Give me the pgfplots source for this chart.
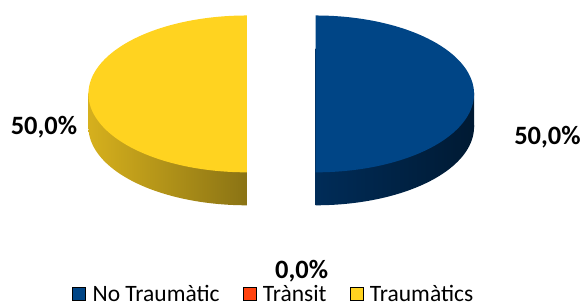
\documentclass[border=0pt]{standalone}
\usepackage{fontspec}
\setmainfont{Carlito}
\usepackage{pgfplots}
\pgfplotsset{compat=1.18}
\definecolor{cblue}{HTML}{004586}
\definecolor{corange}{HTML}{FF420E}
\definecolor{cyellow}{HTML}{FFD320}
\definecolor{ysideL}{HTML}{D6B01D}
\definecolor{ysideR}{HTML}{8A7314}
\definecolor{bsideL}{HTML}{002C58}
\definecolor{bsideR}{HTML}{001A33}
\begin{document}
\begin{tikzpicture}
% data (percent)
\def\vA{50}% No Traumatic
\def\vB{0}% Transit
\def\vC{50}% Traumatics
% geometry
\def\cx{281.5}\def\cy{213}\def\ra{158.5}\def\rb{78.5}\def\dep{33}\def\ex{34.5}
\pgfmathsetmacro\sA{90}
\pgfmathsetmacro\eA{\sA-3.6*\vA}
\pgfmathsetmacro\eB{\eA-3.6*\vB}
\pgfmathsetmacro\eC{\eB-3.6*\vC}
\pgfmathsetmacro\mA{(\sA+\eA)/2}
\pgfmathsetmacro\mC{(\eB+\eC)/2}
\pgfmathsetmacro\cxA{\cx+\ex*cos(\mA)}
\pgfmathsetmacro\cxC{\cx+\ex*cos(\mC)}
\pgfmathsetmacro\cyL{\cy-\dep}
\pgfmathsetmacro\xAr{\cxA+\ra}
\pgfmathsetmacro\xCl{\cxC-\ra}
\begin{axis}[
  scale only axis, width=584pt, height=307pt,
  xmin=0, xmax=584, ymin=0, ymax=307,
  hide axis, clip=false, no markers,
  legend columns=3,
  legend image code/.code={\fill[#1] (0pt,-6.5pt) rectangle (13pt,6.5pt);},
  legend style={at={(axis cs:274,13)}, anchor=center, draw=none, fill=none,
    font=\fontsize{23.5}{26}\selectfont, inner sep=0pt,
    /tikz/every odd column/.append style={column sep=5pt},
    /tikz/every even column/.append style={column sep=21pt}},
]
% --- Slice A (No Traumatic), side
\addplot[forget plot, draw=none, left color=bsideL, right color=bsideR, domain=\eA:\sA, samples=120]
  ({\cxA+\ra*cos(x)},{\cyL+\rb*sin(x)}) -- cycle;
\addplot[forget plot, draw=none, left color=bsideL, right color=bsideR]
  coordinates {(\cxA,\cyL) (\xAr,\cyL) (\xAr,\cy) (\cxA,\cy)} -- cycle;
% top
\addplot[forget plot, draw=none, fill=cblue, domain=\eA:\sA, samples=120]
  ({\cxA+\ra*cos(x)},{\cy+\rb*sin(x)}) -- cycle;
% --- Slice C (Traumatics), side
\addplot[forget plot, draw=none, left color=ysideL, right color=ysideR, domain=\eC:\eB, samples=120]
  ({\cxC+\ra*cos(x)},{\cyL+\rb*sin(x)}) -- cycle;
\addplot[forget plot, draw=none, left color=ysideL, right color=ysideR]
  coordinates {(\xCl,\cyL) (\cxC,\cyL) (\cxC,\cy) (\xCl,\cy)} -- cycle;
% top
\addplot[forget plot, draw=none, fill=cyellow, domain=\eC:\eB, samples=120]
  ({\cxC+\ra*cos(x)},{\cy+\rb*sin(x)}) -- cycle;
% labels
\node[font=\fontsize{26.5}{30}\selectfont\bfseries] at (axis cs:44,180) {50,0\%};
\node[font=\fontsize{26.5}{30}\selectfont\bfseries] at (axis cs:548,170) {50,0\%};
\node[font=\fontsize{26.5}{30}\selectfont\bfseries] at (axis cs:302,36) {0,0\%};
\path (axis cs:0,0) rectangle (axis cs:584,307);
% legend
\addlegendimage{fill=cblue}
\addlegendentry{No Traumàtic}
\addlegendimage{fill=corange}
\addlegendentry{Trànsit}
\addlegendimage{fill=cyellow}
\addlegendentry{Traumàtics}
\end{axis}
\end{tikzpicture}
\end{document}
